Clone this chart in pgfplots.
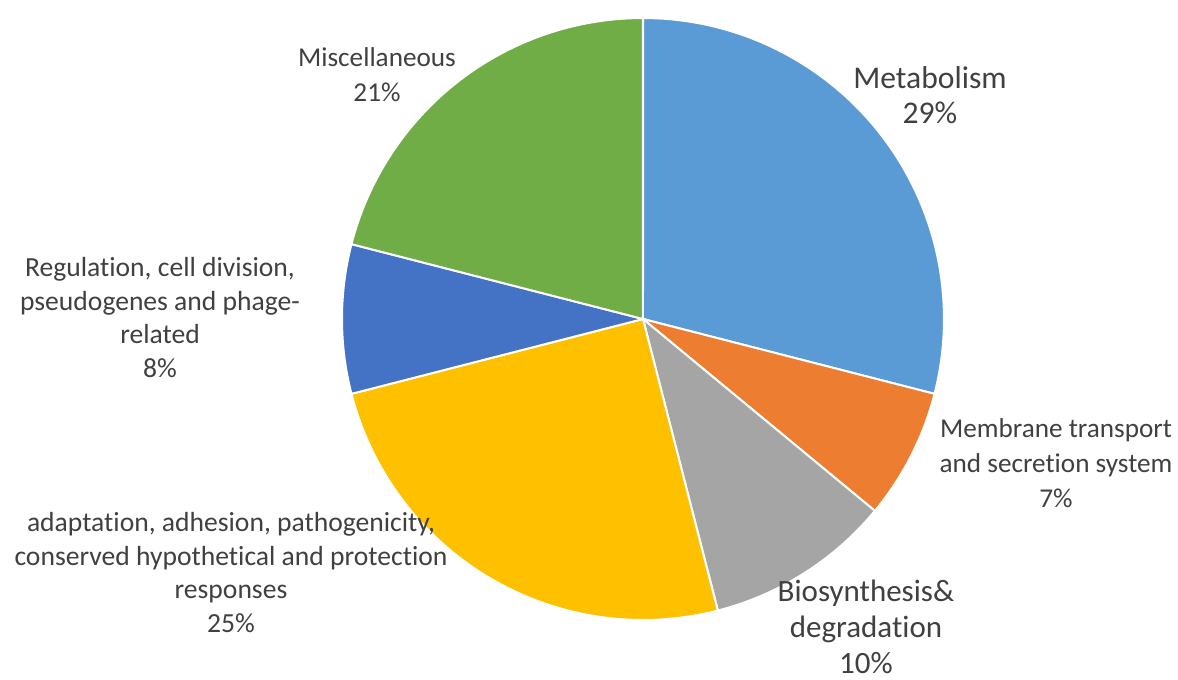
\documentclass[border=0pt]{standalone}
\usepackage{fontspec}
\setmainfont{Carlito}[Ligatures=CommonOff]
\usepackage{pgfplots}
\pgfplotsset{compat=1.18}
\usepgfplotslibrary{polar}

\definecolor{cMet}{HTML}{5B9BD5}
\definecolor{cMem}{HTML}{ED7D31}
\definecolor{cBio}{HTML}{A5A5A5}
\definecolor{cAda}{HTML}{FFC000}
\definecolor{cReg}{HTML}{4472C4}
\definecolor{cMis}{HTML}{70AD47}
\definecolor{txt}{HTML}{404040}

% slice shares in percent, clockwise from 12 o'clock:
% Metabolism 29, Membrane 7, Biosynthesis 10, adaptation 25, Regulation 8, Misc 21
\newcommand{\slice}[3]{% colour, cumulative before, cumulative after
  \addplot[fill=#1, draw=white, line width=1pt, domain={90-3.6*#3}:{90-3.6*#2}, samples=80] {1} -- (axis cs:0,0) -- cycle;
}

\begin{document}
\begin{tikzpicture}
\useasboundingbox (-321.5pt,-180.5pt) rectangle (267.5pt,159.5pt);
\begin{polaraxis}[
  at={(0,0)}, anchor=center,
  width=301pt, height=301pt, scale only axis,
  hide axis, ymin=0, ymax=1,
  clip=false,
]
\slice{cMet}{0}{29}
\slice{cMem}{29}{36}
\slice{cBio}{36}{46}
\slice{cAda}{46}{71}
\slice{cReg}{71}{79}
\slice{cMis}{79}{100}
\end{polaraxis}
% labels: coordinates are pixel positions of the last line's baseline
\begin{scope}[x=0.5pt, y=-0.5pt, shift={(-321.5pt,159.5pt)},
  every node/.style={text=txt, align=center, anchor=base, inner sep=0pt}]
\node[font=\fontsize{15.8}{17.5}\selectfont] at (930,124) {Metabolism\\29\%};
\node[font=\fontsize{13.6}{17.3}\selectfont] at (1056,507) {Membrane transport\\and secretion system\\7\%};
\node[font=\fontsize{15.5}{18}\selectfont] at (866,673) {Biosynthesis\&\\degradation\\10\%};
\node[font=\fontsize{13.8}{16.7}\selectfont] at (231,632) {adaptation, adhesion, pathogenicity,\\conserved hypothetical and protection\\responses\\25\%};
\node[font=\fontsize{13.8}{16.7}\selectfont] at (160,377) {Regulation, cell division,\\pseudogenes and phage-\\related\\8\%};
\node[font=\fontsize{13.6}{17.5}\selectfont] at (377,102) {Miscellaneous\\21\%};
\end{scope}
\end{tikzpicture}
\end{document}
